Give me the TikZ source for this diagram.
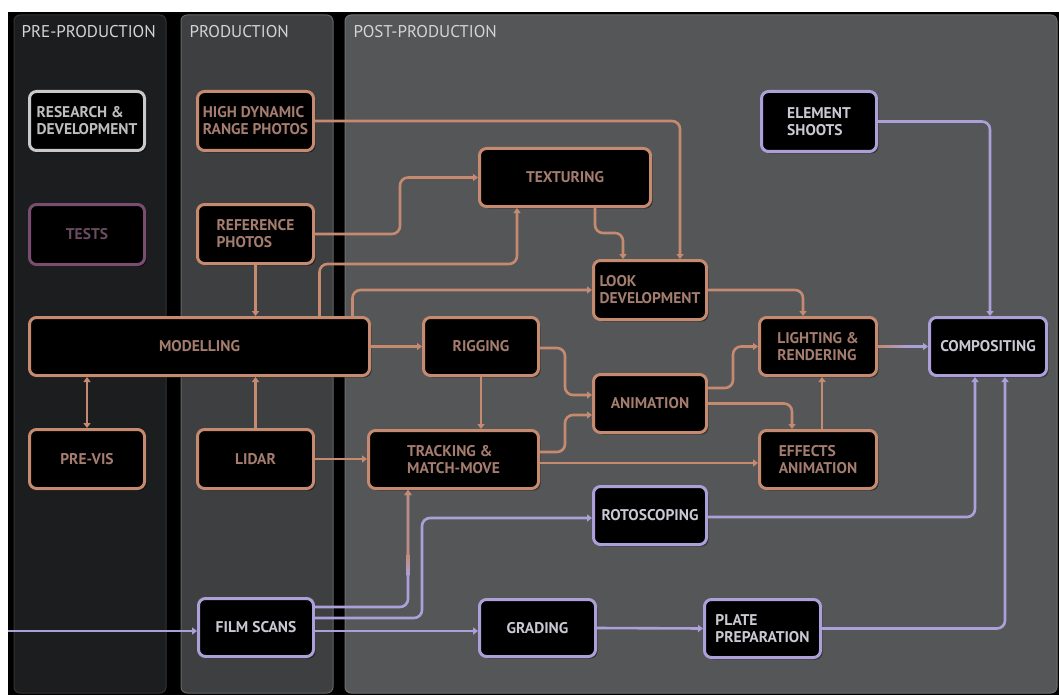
\documentclass[tikz,border=0pt]{standalone}
\usepackage{fontspec}
\setmainfont{PT Sans}
\usetikzlibrary{arrows.meta,calc,shadows}

\definecolor{copper}{HTML}{C58A70}
\definecolor{coppertxt}{HTML}{A47D6F}
\definecolor{lilac}{HTML}{ADA0D8}
\definecolor{lilactxt}{HTML}{CBC8D3}
\definecolor{greyline}{HTML}{CACACA}
\definecolor{greytxt}{HTML}{BEBEBE}
\definecolor{plum}{HTML}{7A4D70}
\definecolor{plumtxt}{HTML}{6A4C60}
\definecolor{prefill}{HTML}{1C1D1F}
\definecolor{prodfill}{HTML}{3D3F41}
\definecolor{postfill}{HTML}{545658}
\definecolor{headtxt}{HTML}{D4D4D4}

\tikzset{
  >={Triangle[length=5pt,width=7pt]},
  sz/.style 2 args={minimum width=#1pt, minimum height=#2pt},
  box/.style={draw, line width=3pt, rounded corners=7pt, fill=black,
    align=left, inner sep=0pt,
    font=\bfseries\fontsize{15.5}{17}\selectfont,
    drop shadow={shadow xshift=2pt, shadow yshift=-2pt, opacity=0.45, fill=black}},
  orangebox/.style={box, draw=copper, text=coppertxt},
  purplebox/.style={box, draw=lilac, text=lilactxt},
  greybox/.style={box, draw=greyline, text=greytxt},
  plumbox/.style={box, draw=plum, text=plumtxt},
  panel/.style={rounded corners=6pt, line width=1pt},
  heading/.style={anchor=west, text=headtxt, font=\fontsize{17}{19}\selectfont},
  oc/.style={draw=copper, line width=2.6pt, rounded corners=8pt, ->},
  lc/.style={draw=lilac, line width=2.6pt, rounded corners=8pt, ->},
}

\begin{document}
\begin{tikzpicture}[x=1pt, y=-1pt]
\useasboundingbox (0,0) rectangle (1059,695);
\fill[white] (0,0) rectangle (1059,695);
\fill[black] (8,12) rectangle (1059,695);

% stage panels
\draw[panel, fill=prefill, draw=black!80!white] (14,15) rectangle (166,693);
\draw[panel, fill=prodfill, draw=prodfill!80!white] (181,15) rectangle (333,693);
\draw[panel, fill=postfill, draw=postfill!85!white] (345,15) rectangle (1057,693);
\node[heading] (hpre)  at (18,32)  {PRE-PRODUCTION};
\node[heading] (hprod) at (186,32) {PRODUCTION};
\node[heading] (hpost) at (350,32) {POST-PRODUCTION};

% boxes
\node[greybox, sz={115}{59}]   (rd)     at (87,121)    {RESEARCH \&\\DEVELOPMENT};
\node[plumbox, sz={115}{60}]   (tests)  at (87,234.5)  {TESTS};
\node[orangebox, sz={116}{59}] (hdr)    at (255.5,121) {HIGH DYNAMIC\\RANGE PHOTOS};
\node[orangebox, sz={116}{59}] (ref)    at (255.5,234) {REFERENCE\\PHOTOS};
\node[orangebox, sz={340}{58}] (model)  at (199.5,346.5) {MODELLING};
\node[orangebox, sz={115}{59}] (previs) at (87,459)    {PRE-VIS};
\node[orangebox, sz={116}{59}] (lidar)  at (255.5,459) {LIDAR};
\node[orangebox, sz={171}{58}] (tex)    at (565,177.5) {TEXTURING};
\node[orangebox, sz={113}{59}] (look)   at (650,290)   {LOOK\\DEVELOPMENT};
\node[orangebox, sz={115}{58}] (rig)    at (481,346.5) {RIGGING};
\node[orangebox, sz={113}{58}] (anim)   at (650,403.5) {ANIMATION};
\node[orangebox, sz={117}{58}] (light)  at (818,346.5) {LIGHTING \&\\RENDERING};
\node[orangebox, sz={117}{58}] (fx)     at (818,459.5) {EFFECTS\\ANIMATION};
\node[orangebox, sz={170}{58}] (track)  at (453.5,459.5) {TRACKING \&\\MATCH-MOVE};
\node[purplebox, sz={115}{60}] (elem)   at (819,121.5) {ELEMENT\\SHOOTS};
\node[purplebox, sz={117}{58}] (comp)   at (988,346.5) {COMPOSITING};
\node[purplebox, sz={113}{58}] (roto)   at (650,515.5) {ROTOSCOPING};
\node[purplebox, sz={115}{58}] (film)   at (256,627.5) {FILM SCANS};
\node[purplebox, sz={116}{57}] (grade)  at (537.5,628) {GRADING};
\node[purplebox, sz={116}{58}] (plate)  at (762.5,628.5) {PLATE\\PREPARATION};

\coordinate (src) at (8,631);

% copper connectors
\draw[oc] (hdr.east) -| ($(look.north)+(30,0)$);
\draw[oc] (ref.east) -- ++(85,0) |- (tex.west);
\draw[oc] ($(model.north)+(120,0)$) -- ++(0,-52) -| ($(tex.south)+(-48,0)$);
\draw[oc] ($(tex.south)+(30,0)$) -- ++(0,25) -| ($(look.north)+(-27,0)$);
\draw[oc] ($(model.north)+(153,0)$) |- (look.west);
\draw[oc] (ref.south) -- (ref.south |- model.north);
\draw[oc, <->] (previs.north) -- (previs.north |- model.south);
\draw[oc] (lidar.north) -- (lidar.north |- model.south);
\draw[oc] (model.east) -- (model.east -| rig.west);
\draw[oc] (rig.south) -- (rig.south |- track.north);
\draw[oc] (lidar.east) -- (lidar.east -| track.west);
\draw[oc] ($(rig.east)+(0,1.5)$) -- ++(25,0) |- ($(anim.west)+(0,-8.5)$);
\draw[oc] ($(track.east)+(0,-7.5)$) -- ++(25,0) |- ($(anim.west)+(0,11.5)$);
\draw[oc] ($(track.east)+(0,3.5)$) -- ($(fx.west)+(0,3.5)$);
\draw[oc] (look.east) -| ($(light.north)+(-15,0)$);
\draw[oc] ($(anim.east)+(0,-15.5)$) -- ++(25,0) |- (light.west);
\draw[oc] (anim.east) -| ($(fx.north)+(-26,0)$);
\draw[oc] ($(fx.north)+(4,0)$) -- ($(light.south)+(4,0)$);

% lilac connectors
\draw[lc] (light.east) -- (comp.west);
\shade[left color=copper, right color=lilac] ($(light.east)+(0,-1.3)$) rectangle ($(light.east)+(30,1.3)$);
\draw[lc] (elem.east) -| ($(comp.north)+(2,0)$);
\draw[lc] ($(roto.east)+(0,1.5)$) -| ($(comp.south)+(-13,0)$);
\draw[lc] (plate.east) -| ($(comp.south)+(17,0)$);
\draw[lc] (src) -- (src -| film.west);
\coordinate (tk) at ($(track.south)+(-45.5,0)$);
\draw[lc] ($(film.east)+(0,-20.5)$) -| (tk);
\draw[oc] ($(tk)+(0,65)$) -- (tk);
\shade[top color=copper, bottom color=lilac] ($(tk)+(-1.3,64)$) rectangle ($(tk)+(1.3,85)$);
\draw[lc] ($(film.east)+(0,-9.5)$) -- ++(107,0) |- ($(roto.west)+(0,2.5)$);
\draw[lc] ($(film.east)+(0,3.5)$) -- ($(grade.west)+(0,3)$);
\draw[lc] (grade.east) -- (plate.west);
\end{tikzpicture}
\end{document}
